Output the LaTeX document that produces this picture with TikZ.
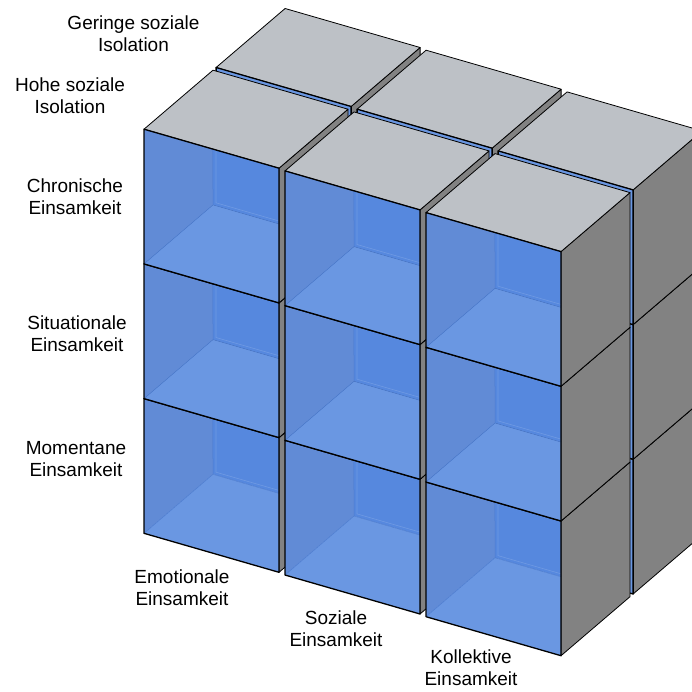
\documentclass[tikz,border=0pt]{standalone}
\usepackage{fontspec}
\setmainfont{Liberation Sans}
\definecolor{wandlinks}{HTML}{618BD6}
\definecolor{wandhinten}{HTML}{5688DE}
\definecolor{boden}{HTML}{6A97E2}
\definecolor{deckel}{HTML}{BDC1C6}
\definecolor{seite}{HTML}{828282}
\definecolor{innen}{HTML}{4B7BCF}
\tikzset{
  beschriftung/.style={align=center, font=\fontsize{19}{22}\selectfont},
  flaeche/.style={draw=black, line width=0.8pt, line join=round},
  vorderkante/.style={draw=black, line width=1.3pt, line join=round},
  innenkante/.style={draw=innen, line width=0.5pt},
  leiste/.style={draw=white, opacity=0.15, line width=0.6pt}
}
% Schnittpunkte der Rueckwand mit der Oeffnung
\def\rwa{0.511}
\def\rwb{0.586}
% Wuerfel: #1,#2 = vordere untere linke Ecke, #3 = Vorderseite
\newcommand{\wuerfel}[3]{%
  \begin{scope}[shift={(#1,#2)}, x={(135pt,-39pt)}, y={(0pt,134.7pt)}, z={(69pt,59pt)}]
    \filldraw[flaeche, fill=seite] (1,0,0) -- (1,0,1) -- (1,1,1) -- (1,1,0) -- cycle;
    \filldraw[flaeche, fill=deckel] (0,1,0) -- (1,1,0) -- (1,1,1) -- (0,1,1) -- cycle;
    #3
  \end{scope}}
% offene Vorderseite mit Blick ins Innere
\newcommand{\vornoffen}{%
  \fill[wandlinks] (0,0,0) -- (0,0,1) -- (\rwa,1,0) -- (0,1,0) -- cycle;
  \fill[wandhinten] (0,0,1) -- (1,\rwb,0) -- (1,1,0) -- (\rwa,1,0) -- cycle;
  \fill[boden] (0,0,0) -- (1,0,0) -- (1,\rwb,0) -- (0,0,1) -- cycle;
  \draw[leiste] (\rwa+0.022,1,0) -- (\rwa+0.022,\rwb+0.022,0) -- (1,\rwb+0.022,0);
  \draw[innenkante] (0,0,0) -- (0,0,1) -- (\rwa,1,0) (0,0,1) -- (1,\rwb,0);
  \draw[vorderkante] (0,0,0) -- (1,0,0) -- (1,1,0) -- (0,1,0) -- cycle;}
% hintere Vorderseite, nur im Spalt sichtbar
\newcommand{\hintenzu}{%
  \filldraw[vorderkante, fill=boden] (0,0,0) -- (1,0,0) -- (1,1,0) -- (0,1,0) -- cycle;}
\begin{document}
\begin{tikzpicture}[x=1pt, y=-1pt]
  \useasboundingbox (0,0) rectangle (692,691);
  \begin{scope}
    \clip (0,0) rectangle (692,691);
    % hintere Ebene (geringe soziale Isolation)
    \foreach \s in {0,...,2} {
      \foreach \r in {0,...,2} {
        \wuerfel{144+72.1+141*\s}{533.3-61.7+41.7*\s-134.7*\r}{\hintenzu}
      }
    }
    % vordere Ebene (hohe soziale Isolation)
    \foreach \s in {0,...,2} {
      \foreach \r in {0,...,2} {
        \wuerfel{144+141*\s}{533.3+41.7*\s-134.7*\r}{\vornoffen}
      }
    }
  \end{scope}
  % Ebenen
  \node[beschriftung] (gering) at (133.5,34) {Geringe soziale\\Isolation};
  \node[beschriftung] (hoch) at (70,95.7) {Hohe soziale\\Isolation};
  % Zeilen
  \node[beschriftung] (chronisch) at (75,197) {Chronische\\Einsamkeit};
  \node[beschriftung] (situativ) at (77,334) {Situationale\\Einsamkeit};
  \node[beschriftung] (momentan) at (76,459) {Momentane\\Einsamkeit};
  % Spalten
  \node[beschriftung] (emotional) at (182,588) {Emotionale\\Einsamkeit};
  \node[beschriftung] (sozial) at (336,629) {Soziale\\Einsamkeit};
  \node[beschriftung, inner sep=1pt] (kollektiv) at (471,668) {Kollektive\\Einsamkeit};
\end{tikzpicture}
\end{document}
